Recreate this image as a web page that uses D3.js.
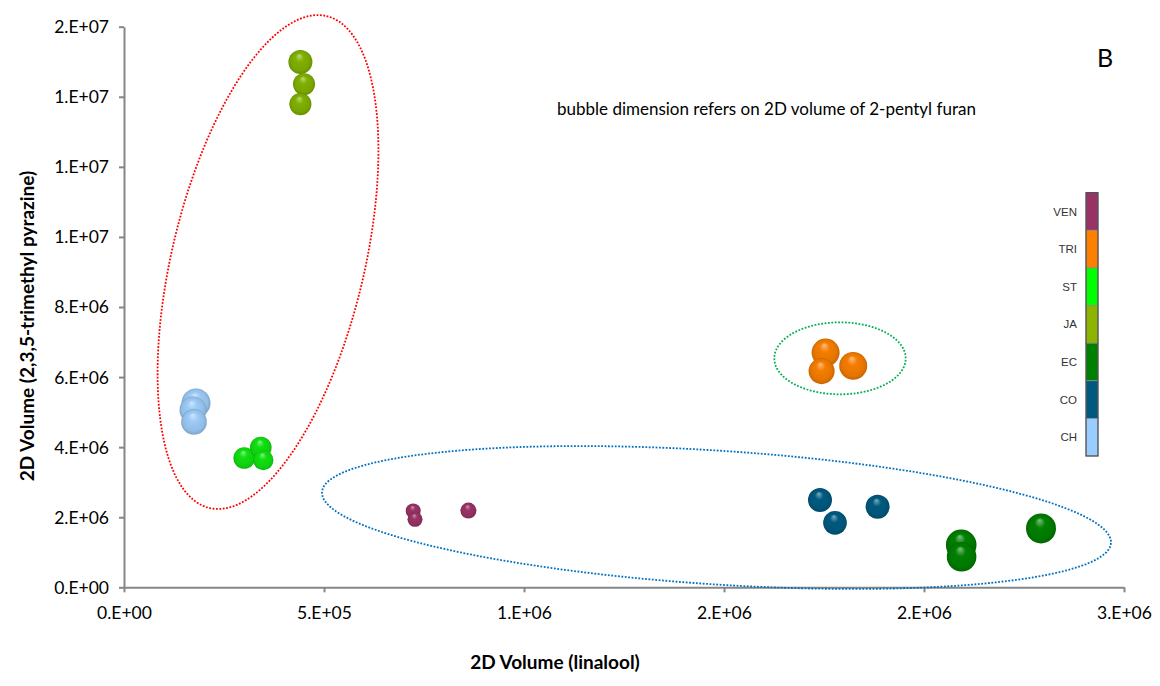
<!DOCTYPE html>
<html>
<head>
<meta charset="utf-8">
<script src="https://cdn.jsdelivr.net/npm/d3@7"></script>
<style>
  html, body { margin: 0; padding: 0; background: #fff; }
  svg { display: block; }
</style>
</head>
<body>
<svg id="chart" width="1160" height="686"></svg>
<script>
// ---------------- DATA ----------------
const groups = ["VEN", "TRI", "ST", "JA", "EC", "CO", "CH"];           // legend order (top -> bottom)
const groupColors = ["#993366", "#ff8000", "#00ff00", "#8cb400", "#008000", "#005a80", "#99ccff"];
const ballColors  = ["#993366", "#f57d00", "#10e010", "#80b000", "#008000", "#005a80", "#9ccbf7"];

const sample   = ["JA","JA","JA","CH","CH","CH","ST","ST","ST","TRI","TRI","TRI","VEN","VEN","VEN","CO","CO","CO","EC","EC","EC"];
const linalool = [441000,450000,441000, 180000,172500,175000, 300500,342000,348250, 1754000,1744000,1823000, 723000,727500,861000, 1740000,1777500,1884000, 2093000,2094000,2292500];
const pyrazine = [14.99e6,14.36e6,13.79e6, 5.26e6,5.06e6,4.72e6, 3.69e6,3.99e6,3.63e6, 6.70e6,6.17e6,6.32e6, 2.18e6,1.94e6,2.19e6, 2.49e6,1.84e6,2.30e6, 1.21e6,0.87e6,1.68e6];
const pentylFuran = [1.47e6,1.24e6,1.24e6, 2.15e6,1.86e6,1.68e6, 1.19e6,1.19e6,1.06e6, 2.00e6,1.73e6,2.00e6, 0.575e6,0.575e6,0.654e6, 1.47e6,1.43e6,1.47e6, 2.39e6,2.24e6,2.30e6];

const xTicks = [0, 500000, 1000000, 1500000, 2000000, 2500000];
const yTicks = [0, 2e6, 4e6, 6e6, 8e6, 10e6, 12e6, 14e6, 16e6];

// group-encircling annotation ellipses, in data units: centre + two conjugate semi-axis vectors
const ellipseCx = [360000, 1481250, 1790000];
const ellipseCy = [9.284e6, 1.992e6, 6.535e6];
const ellipseU  = [[146500, 7.02e6], [986250, -727700], [164250, 0]];
const ellipseV  = [[234000, -0.636e6], [-10775, -1.905e6], [0, 1.027e6]];
const ellipseColors = ["#ff0000", "#0070c0", "#00b050"];

// ---------------- CHART ----------------
const svg = d3.select("#chart");
const FONT = "Lato, 'Open Sans', sans-serif";

const x = d3.scaleLinear().domain([0, 2500000]).range([124, 1124]);
const y = d3.scaleLinear().domain([0, 16e6]).range([587.3, 26.7]);
const r = d3.scaleSqrt().domain([0, 2.3e6]).range([0, 15]);

function excelFmt(v) {
  if (v === 0) return "0.E+00";
  let e = Math.floor(Math.log10(Math.abs(v)));
  let m = Math.round(v / Math.pow(10, e));
  if (m >= 10) { m = m / 10; e += 1; }
  return m + ".E" + (e >= 0 ? "+" : "-") + String(Math.abs(e)).padStart(2, "0");
}

// gradients for 3D bubbles
const defs = svg.append("defs");
groups.forEach((g, i) => {
  const base = d3.color(ballColors[i]);
  const grad = defs.append("radialGradient")
    .attr("id", "grad-" + g)
    .attr("cx", "50%").attr("cy", "50%").attr("r", "50%")
    .attr("fx", "45%").attr("fy", "22%");
  const light = d3.interpolateRgb(base, "#ffffff")(0.5);
  grad.append("stop").attr("offset", "0%").attr("stop-color", light);
  grad.append("stop").attr("offset", "35%").attr("stop-color", base.formatHex());
  grad.append("stop").attr("offset", "82%").attr("stop-color", base.darker(0.2).formatHex());
  grad.append("stop").attr("offset", "100%").attr("stop-color", base.darker(0.6).formatHex());
});

// axes
const axisColor = "#868686";
const xAxis = svg.append("g").attr("transform", `translate(0,${y(0)})`)
  .call(d3.axisBottom(x).tickValues(xTicks).tickFormat(excelFmt).tickSize(5).tickSizeOuter(0));
const yAxis = svg.append("g").attr("transform", `translate(${x(0)},0)`)
  .call(d3.axisLeft(y).tickValues(yTicks).tickFormat(excelFmt).tickSize(5).tickSizeOuter(0));

[xAxis, yAxis].forEach(a => {
  a.select(".domain").attr("stroke", axisColor).attr("stroke-width", 2);
  a.selectAll(".tick line").attr("stroke", axisColor).attr("stroke-width", 2);
  a.selectAll(".tick text").attr("fill", "#000").style("font-family", FONT).style("font-size", "17.5px");
});
xAxis.selectAll(".tick text").attr("dy", "0").attr("y", 32);
yAxis.selectAll(".tick text").attr("x", -15).attr("dy", "0.34em");

// axis titles
svg.append("text").attr("x", 555).attr("y", 669).attr("text-anchor", "middle")
  .style("font-family", FONT).style("font-size", "19px").style("font-weight", "bold")
  .text("2D Volume (linalool)");
svg.append("text").attr("transform", "translate(34,326) rotate(-90)").attr("text-anchor", "middle")
  .style("font-family", FONT).style("font-size", "19px").style("font-weight", "bold")
  .text("2D Volume (2,3,5-trimethyl pyrazine)");

// annotation text
svg.append("text").attr("x", 557).attr("y", 115)
  .style("font-family", FONT).style("font-size", "17px").attr("fill", "#000")
  .text("bubble dimension refers on 2D volume of 2-pentyl furan");
svg.append("text").attr("x", 1097).attr("y", 67)
  .style("font-family", FONT).style("font-size", "25px").attr("fill", "#000")
  .text("B");

// ellipses
const tSteps = d3.range(0, 361, 2).map(d => d * Math.PI / 180);
const line = d3.line().x(d => x(d[0])).y(d => y(d[1])).curve(d3.curveLinearClosed);
ellipseCx.forEach((cx, i) => {
  const pts = tSteps.map(t => [
    cx + ellipseU[i][0] * Math.cos(t) + ellipseV[i][0] * Math.sin(t),
    ellipseCy[i] + ellipseU[i][1] * Math.cos(t) + ellipseV[i][1] * Math.sin(t)
  ]);
  svg.append("path").attr("d", line(pts))
    .attr("fill", "none").attr("stroke", ellipseColors[i])
    .attr("stroke-width", 1.8).attr("stroke-dasharray", "1.8,1.6");
});

// bubbles
const pts = sample.map((s, i) => ({ s, x: linalool[i], y: pyrazine[i], v: pentylFuran[i] }));
svg.append("g").selectAll("circle").data(pts).join("circle")
  .attr("cx", d => x(d.x)).attr("cy", d => y(d.y)).attr("r", d => r(d.v))
  .attr("fill", d => `url(#grad-${d.s})`);

// legend colour bar
const lg = d3.scaleBand().domain(groups).range([192.7, 456]);
const legend = svg.append("g");
legend.selectAll("rect").data(groups).join("rect")
  .attr("x", 1086).attr("y", d => lg(d)).attr("width", 12).attr("height", lg.bandwidth())
  .attr("fill", (d, i) => groupColors[i]).attr("stroke", "#8a8a8a").attr("stroke-width", 0.8);
legend.append("rect").attr("x", 1086).attr("y", 192.7).attr("width", 12).attr("height", 456 - 192.7)
  .attr("fill", "none").attr("stroke", "#404040").attr("stroke-width", 1);
legend.selectAll("text").data(groups).join("text")
  .attr("x", 1077).attr("y", d => lg(d) + lg.bandwidth() / 2).attr("dy", "0.35em")
  .attr("text-anchor", "end")
  .style("font-family", "'Liberation Sans', Arial, sans-serif").style("font-size", "11.5px")
  .attr("fill", "#333").text(d => d);
</script>
</body>
</html>
